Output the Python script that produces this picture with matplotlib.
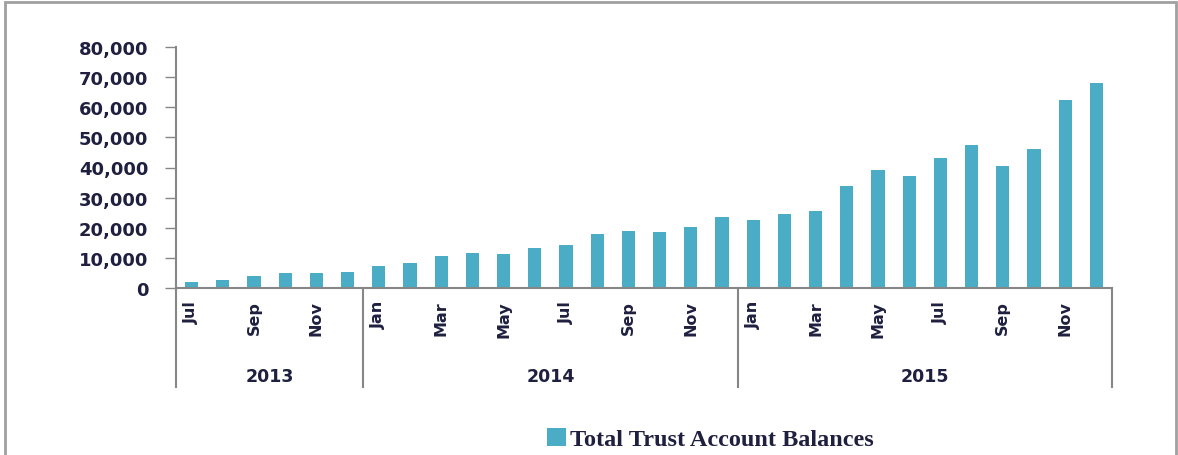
import numpy as np
import matplotlib.pyplot as plt
from matplotlib.patches import Rectangle
from matplotlib.ticker import FuncFormatter

# Data (monthly balances, Jul 2013 - Dec 2015)
years = ['2013', '2014', '2015']
months_per_year = [6, 12, 12]
month_names = ['Jul', 'Aug', 'Sep', 'Oct', 'Nov', 'Dec',
               'Jan', 'Feb', 'Mar', 'Apr', 'May', 'Jun', 'Jul', 'Aug', 'Sep', 'Oct', 'Nov', 'Dec',
               'Jan', 'Feb', 'Mar', 'Apr', 'May', 'Jun', 'Jul', 'Aug', 'Sep', 'Oct', 'Nov', 'Dec']
balances = [2100, 2650, 3900, 5100, 4900, 5400,
            7400, 8200, 10600, 11500, 11400, 13300, 14300, 17800, 18900, 18700, 20400, 23500,
            22600, 24600, 25400, 34000, 39300, 37200, 43300, 47600, 40600, 46200, 62500, 67900]

W, H = 1178, 456
bar_color = '#4bacc6'
axis_color = '#868686'
text_color = '#1f1f3f'

fig = plt.figure(figsize=(W/100, H/100), dpi=100)
ax = fig.add_axes([176/W, 1 - 289/H, (1112 - 176)/W, (289 - 48)/H])

x = np.arange(len(balances))
ax.bar(x, balances, width=0.42, color=bar_color, label='Total Trust Account Balances')

ax.set_xlim(-0.5, len(balances) - 0.5)
ax.set_ylim(0, 80000)
ax.set_yticks(np.arange(0, 80001, 10000))
ax.yaxis.set_major_formatter(FuncFormatter(lambda v, p: f'{int(v):,}'))
ax.tick_params(axis='y', length=8, width=1, color=axis_color, labelsize=13,
               labelcolor=text_color, pad=12)
for lab in ax.get_yticklabels():
    lab.set_fontweight('bold')
ax.set_xticks([])

for side in ['top', 'right']:
    ax.spines[side].set_visible(False)
for side in ['left', 'bottom']:
    ax.spines[side].set_color(axis_color)
    ax.spines[side].set_linewidth(1.5)

# Multi-level category axis
trans = ax.get_xaxis_transform()
for i in range(0, len(balances), 2):
    ax.text(x[i], -0.05, month_names[i], transform=trans, rotation=90,
            ha='center', va='top', fontsize=11.5, fontweight='bold', color=text_color)

bounds = np.concatenate([[0], np.cumsum(months_per_year)]) - 0.5
y_low = -(388 - 289) / (289 - 48)
for b in bounds:
    ax.plot([b, b], [0, y_low], transform=trans, color=axis_color, lw=1.5,
            clip_on=False)
for k, yr in enumerate(years):
    ax.text((bounds[k] + bounds[k + 1]) / 2, -(377 - 289) / (289 - 48), yr,
            transform=trans, ha='center', va='center', fontsize=12.5,
            fontweight='bold', color=text_color)

# Legend
fig.legend(loc='center', bbox_to_anchor=(710/W, 1 - 440/H), frameon=False,
           prop={'family': 'Liberation Serif', 'size': 17.5, 'weight': 'bold'},
           handlelength=0.8, handleheight=0.8, handletextpad=0.15,
           labelcolor=text_color)

# Chart frame
fig.patches.append(Rectangle((5/W, -0.05), (1176 - 5)/W, 1.05 - 3/H,
                             transform=fig.transFigure, fill=False,
                             edgecolor='#a0a0a0', lw=2))

fig.savefig('out.png', dpi=100)
